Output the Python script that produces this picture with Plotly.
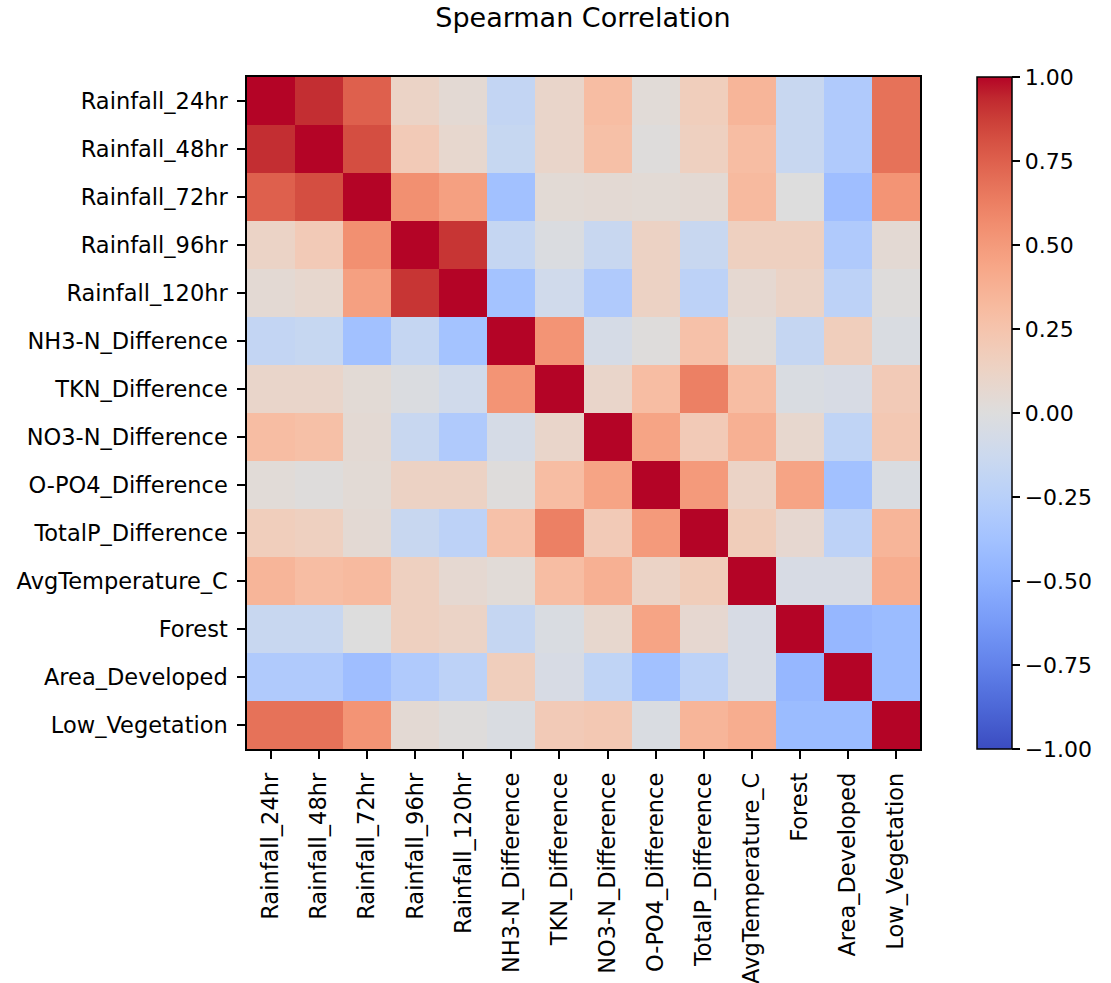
import plotly.graph_objects as go

# Variable names (row/column order of the matrix)
variables = [
    "Rainfall_24hr", "Rainfall_48hr", "Rainfall_72hr", "Rainfall_96hr",
    "Rainfall_120hr", "NH3-N_Difference", "TKN_Difference", "NO3-N_Difference",
    "O-PO4_Difference", "TotalP_Difference", "AvgTemperature_C", "Forest",
    "Area_Developed", "Low_Vegetation",
]

# Spearman correlation coefficients, one list per row
rain_24 = [1.00, 0.92, 0.75, 0.12, 0.05, -0.18, 0.10, 0.30, 0.03, 0.17, 0.35, -0.15, -0.30, 0.68]
rain_48 = [0.92, 1.00, 0.82, 0.20, 0.08, -0.16, 0.10, 0.28, 0.01, 0.15, 0.30, -0.15, -0.30, 0.68]
rain_72 = [0.75, 0.82, 1.00, 0.55, 0.47, -0.38, 0.04, 0.05, 0.04, 0.05, 0.32, 0.00, -0.40, 0.53]
rain_96 = [0.12, 0.20, 0.55, 1.00, 0.90, -0.17, -0.02, -0.15, 0.13, -0.15, 0.15, 0.15, -0.30, 0.05]
rain_120 = [0.05, 0.08, 0.47, 0.90, 1.00, -0.37, -0.10, -0.30, 0.13, -0.22, 0.06, 0.12, -0.22, 0.01]
nh3n = [-0.18, -0.16, -0.38, -0.17, -0.37, 1.00, 0.53, -0.06, 0.01, 0.27, 0.03, -0.17, 0.17, -0.03]
tkn = [0.10, 0.10, 0.04, -0.02, -0.10, 0.53, 1.00, 0.10, 0.30, 0.62, 0.30, -0.03, -0.05, 0.20]
no3n = [0.30, 0.28, 0.05, -0.15, -0.30, -0.06, 0.10, 1.00, 0.45, 0.20, 0.38, 0.08, -0.20, 0.22]
opo4 = [0.03, 0.01, 0.04, 0.13, 0.13, 0.01, 0.30, 0.45, 1.00, 0.50, 0.12, 0.45, -0.38, -0.03]
totalp = [0.17, 0.15, 0.05, -0.15, -0.22, 0.27, 0.62, 0.20, 0.50, 1.00, 0.18, 0.07, -0.22, 0.35]
avg_temp = [0.35, 0.30, 0.32, 0.15, 0.06, 0.03, 0.30, 0.38, 0.12, 0.18, 1.00, -0.05, -0.05, 0.40]
forest = [-0.15, -0.15, 0.00, 0.15, 0.12, -0.17, -0.03, 0.08, 0.45, 0.07, -0.05, 1.00, -0.45, -0.42]
area_dev = [-0.30, -0.30, -0.40, -0.30, -0.22, 0.17, -0.05, -0.20, -0.38, -0.22, -0.05, -0.45, 1.00, -0.42]
low_veg = [0.68, 0.68, 0.53, 0.05, 0.01, -0.03, 0.20, 0.22, -0.03, 0.35, 0.40, -0.42, -0.42, 1.00]

corr = [rain_24, rain_48, rain_72, rain_96, rain_120, nh3n, tkn, no3n,
        opo4, totalp, avg_temp, forest, area_dev, low_veg]

# Colorbar ticks
cbar_vals = [-1.0, -0.75, -0.5, -0.25, 0.0, 0.25, 0.5, 0.75, 1.0]
cbar_text = [f"{v:.2f}".replace("-", "\u2212") for v in cbar_vals]

# Diverging cool-warm colour map
coolwarm_rgb = [
    (59, 76, 192), (68, 90, 204), (77, 104, 215), (87, 117, 225),
    (98, 130, 234), (108, 142, 241), (119, 154, 247), (130, 165, 251),
    (141, 176, 254), (152, 185, 255), (163, 194, 255), (174, 201, 253),
    (184, 208, 249), (194, 213, 244), (204, 217, 238), (213, 219, 230),
    (221, 221, 221), (229, 216, 209), (236, 211, 197), (241, 204, 185),
    (245, 196, 173), (247, 187, 160), (247, 177, 148), (247, 166, 135),
    (244, 154, 123), (241, 141, 111), (236, 127, 99), (229, 112, 88),
    (222, 96, 77), (213, 80, 66), (203, 62, 56), (192, 40, 47),
    (180, 4, 38),
]
n = len(coolwarm_rgb) - 1
coolwarm = [[i / n, f"rgb({r},{g},{b})"] for i, (r, g, b) in enumerate(coolwarm_rgb)]

font_family = "DejaVu Sans"
tick_size = 22.5

fig = go.Figure(
    go.Heatmap(
        z=corr,
        x=variables,
        y=variables,
        zmin=-1,
        zmax=1,
        colorscale=coolwarm,
        colorbar=dict(
            x=(977 - 247) / 673,
            xanchor="left",
            xpad=0,
            y=0.5,
            yanchor="middle",
            len=1,
            lenmode="fraction",
            ypad=0,
            thickness=35,
            outlinewidth=1.5,
            outlinecolor="black",
            tickvals=cbar_vals,
            ticktext=cbar_text,
            ticks="outside",
            ticklen=8,
            tickwidth=1.5,
            tickcolor="black",
            tickfont=dict(family=font_family, size=22, color="black"),
        ),
    )
)

fig.update_layout(
    width=1111,
    height=983,
    margin=dict(l=247, r=191, t=77, b=234, autoexpand=False),
    paper_bgcolor="white",
    plot_bgcolor="white",
    font=dict(family=font_family, color="black"),
    title=dict(
        text="Spearman Correlation",
        x=(583 / 1111),
        xanchor="center",
        y=1 - 18 / 983,
        yanchor="middle",
        font=dict(family=font_family, size=27, color="black"),
    ),
)

axis_style = dict(
    showline=True,
    mirror=True,
    linecolor="black",
    linewidth=1.5,
    ticks="outside",
    ticklen=8,
    tickwidth=1.5,
    tickcolor="black",
    ticklabelstandoff=5,
    showgrid=False,
    zeroline=False,
    automargin=False,
    tickfont=dict(family=font_family, size=tick_size, color="black"),
)

fig.update_xaxes(tickangle=-90, **axis_style)
fig.update_yaxes(autorange="reversed", **axis_style)

fig.write_html("out.html")
